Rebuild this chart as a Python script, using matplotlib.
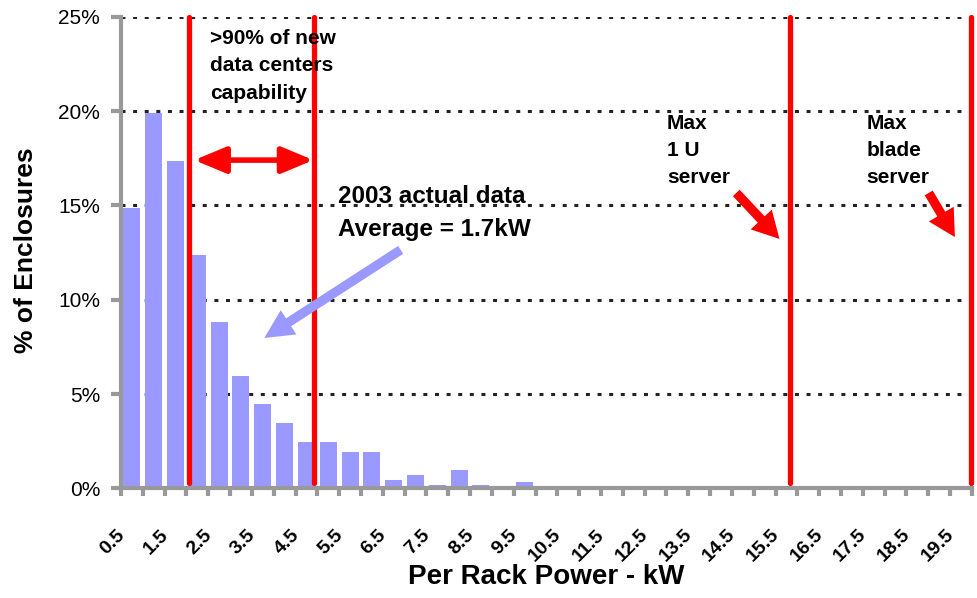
import matplotlib
matplotlib.use("Agg")
import matplotlib.pyplot as plt
from matplotlib.patches import FancyArrowPatch
from matplotlib.transforms import ScaledTranslation
import numpy as np

plt.rcParams['font.family'] = ['Liberation Sans', 'DejaVu Sans']

# per rack power bins (kW) and share of enclosures (%)
power_kw = [0.5 + 0.5 * i for i in range(39)]
share_pct = [14.85, 19.9, 17.35, 12.37, 8.82, 5.95, 4.47, 3.46, 2.45, 2.45,
             1.93, 1.93, 0.44, 0.71, 0.18, 0.97, 0.18, 0.0, 0.33, 0.05,
             0, 0, 0, 0, 0, 0, 0, 0, 0, 0,
             0, 0, 0, 0, 0, 0, 0, 0, 0]
tick_labels = [f"{v:g}" for v in power_kw[::2]]
y_ticks = [0, 5, 10, 15, 20, 25]

# vertical marker lines (kW)
marker_kw = [1.81, 4.68, 15.59, 19.72]

BAR = '#9999FF'
RED = '#FF0000'
GRAY = '#999999'


def kw_to_pos(kw):
    return (kw - 0.5) / 0.5


fig = plt.figure(figsize=(9.77, 5.98), dpi=100)
ax = fig.add_axes([0.1238, 0.1834, 0.9948 - 0.1238, 0.972 - 0.1834])

pos = np.arange(len(power_kw))
ax.bar(pos, share_pct, width=0.78, color=BAR, zorder=2)

ax.set_xlim(-0.5, len(power_kw) - 0.5)
ax.set_ylim(0, 25)

# dotted grid lines
for y in y_ticks[1:]:
    ax.axhline(y, color='#222222', lw=2.2, ls=(0, (1.3, 2.5)), zorder=1)

# spines and ticks
for s in ['top', 'right']:
    ax.spines[s].set_visible(False)
for s in ['left', 'bottom']:
    ax.spines[s].set_color(GRAY)
    ax.spines[s].set_linewidth(3)
    ax.spines[s].set_zorder(3)

ax.set_yticks(y_ticks)
ax.set_yticklabels([f"{v}%" for v in y_ticks], fontsize=15)
ax.tick_params(axis='y', length=7, width=3, color=GRAY, pad=8)

ax.set_xticks(np.arange(len(power_kw) + 1) - 0.5)
ax.set_xticklabels([])
ax.tick_params(axis='x', which='major', length=6, width=3, color=GRAY)
ax.set_xticks(pos[::2], minor=True)
ax.set_xticklabels(tick_labels, minor=True, rotation=45, ha='right', va='center',
                   rotation_mode='anchor', fontsize=14, fontweight='bold')
ax.tick_params(axis='x', which='minor', length=0, pad=0)
shift = ScaledTranslation(-10 / 100, -44 / 100, fig.dpi_scale_trans)
for lab in ax.get_xticklabels(minor=True):
    lab.set_transform(lab.get_transform() + shift)

ax.set_ylabel('% of Enclosures', fontsize=19, fontweight='bold', va='center')
ax.yaxis.set_label_coords(-0.112, 0.505)
ax.set_xlabel('Per Rack Power - kW', fontsize=20, fontweight='bold', va='center')
ax.xaxis.set_label_coords(0.5, -0.188)

# red vertical lines
for kw in marker_kw:
    x = kw_to_pos(kw)
    ax.plot([x, x], [0.3, 25], color=RED, lw=3.8, solid_capstyle='round',
            zorder=4, clip_on=False)

# double arrow between the first two lines
ax.add_patch(FancyArrowPatch((2.86, 17.4), (8.32, 17.4),
                             arrowstyle='<|-|>,head_length=1.2,head_width=0.5',
                             mutation_scale=16, color=RED, lw=4, zorder=5,
                             shrinkA=0, shrinkB=0))

# blue arrow to the bars
ax.add_patch(FancyArrowPatch((12.32, 12.64), (6.07, 7.97),
                             arrowstyle='simple,head_length=1.3,head_width=1.3,tail_width=0.42',
                             mutation_scale=16, color=BAR, lw=0, zorder=5,
                             shrinkA=0, shrinkB=0))

# red arrows to the server lines
for start, end in [((27.7, 15.66), (29.68, 13.22)), ((36.52, 15.66), (37.72, 13.32))]:
    ax.add_patch(FancyArrowPatch(start, end,
                                 arrowstyle='simple,head_length=1.2,head_width=1.3,tail_width=0.42',
                                 mutation_scale=16, color=RED, lw=0, zorder=5,
                                 shrinkA=0, shrinkB=0))

ax.text(3.59, 24.35, '>90% of new\ndata centers\ncapability', fontsize=15,
        fontweight='bold', va='top', ha='left', linespacing=1.55, zorder=6)
ax.text(9.45, 16.1, '2003 actual data\nAverage = 1.7kW', fontsize=17.5,
        fontweight='bold', va='top', ha='left', linespacing=1.55, zorder=6)
ax.text(24.53, 19.85, 'Max\n1 U\nserver', fontsize=15,
        fontweight='bold', va='top', ha='left', linespacing=1.55, zorder=6)
ax.text(33.68, 19.85, 'Max\nblade\nserver', fontsize=15,
        fontweight='bold', va='top', ha='left', linespacing=1.55, zorder=6)

fig.savefig('out.png', dpi=100)
